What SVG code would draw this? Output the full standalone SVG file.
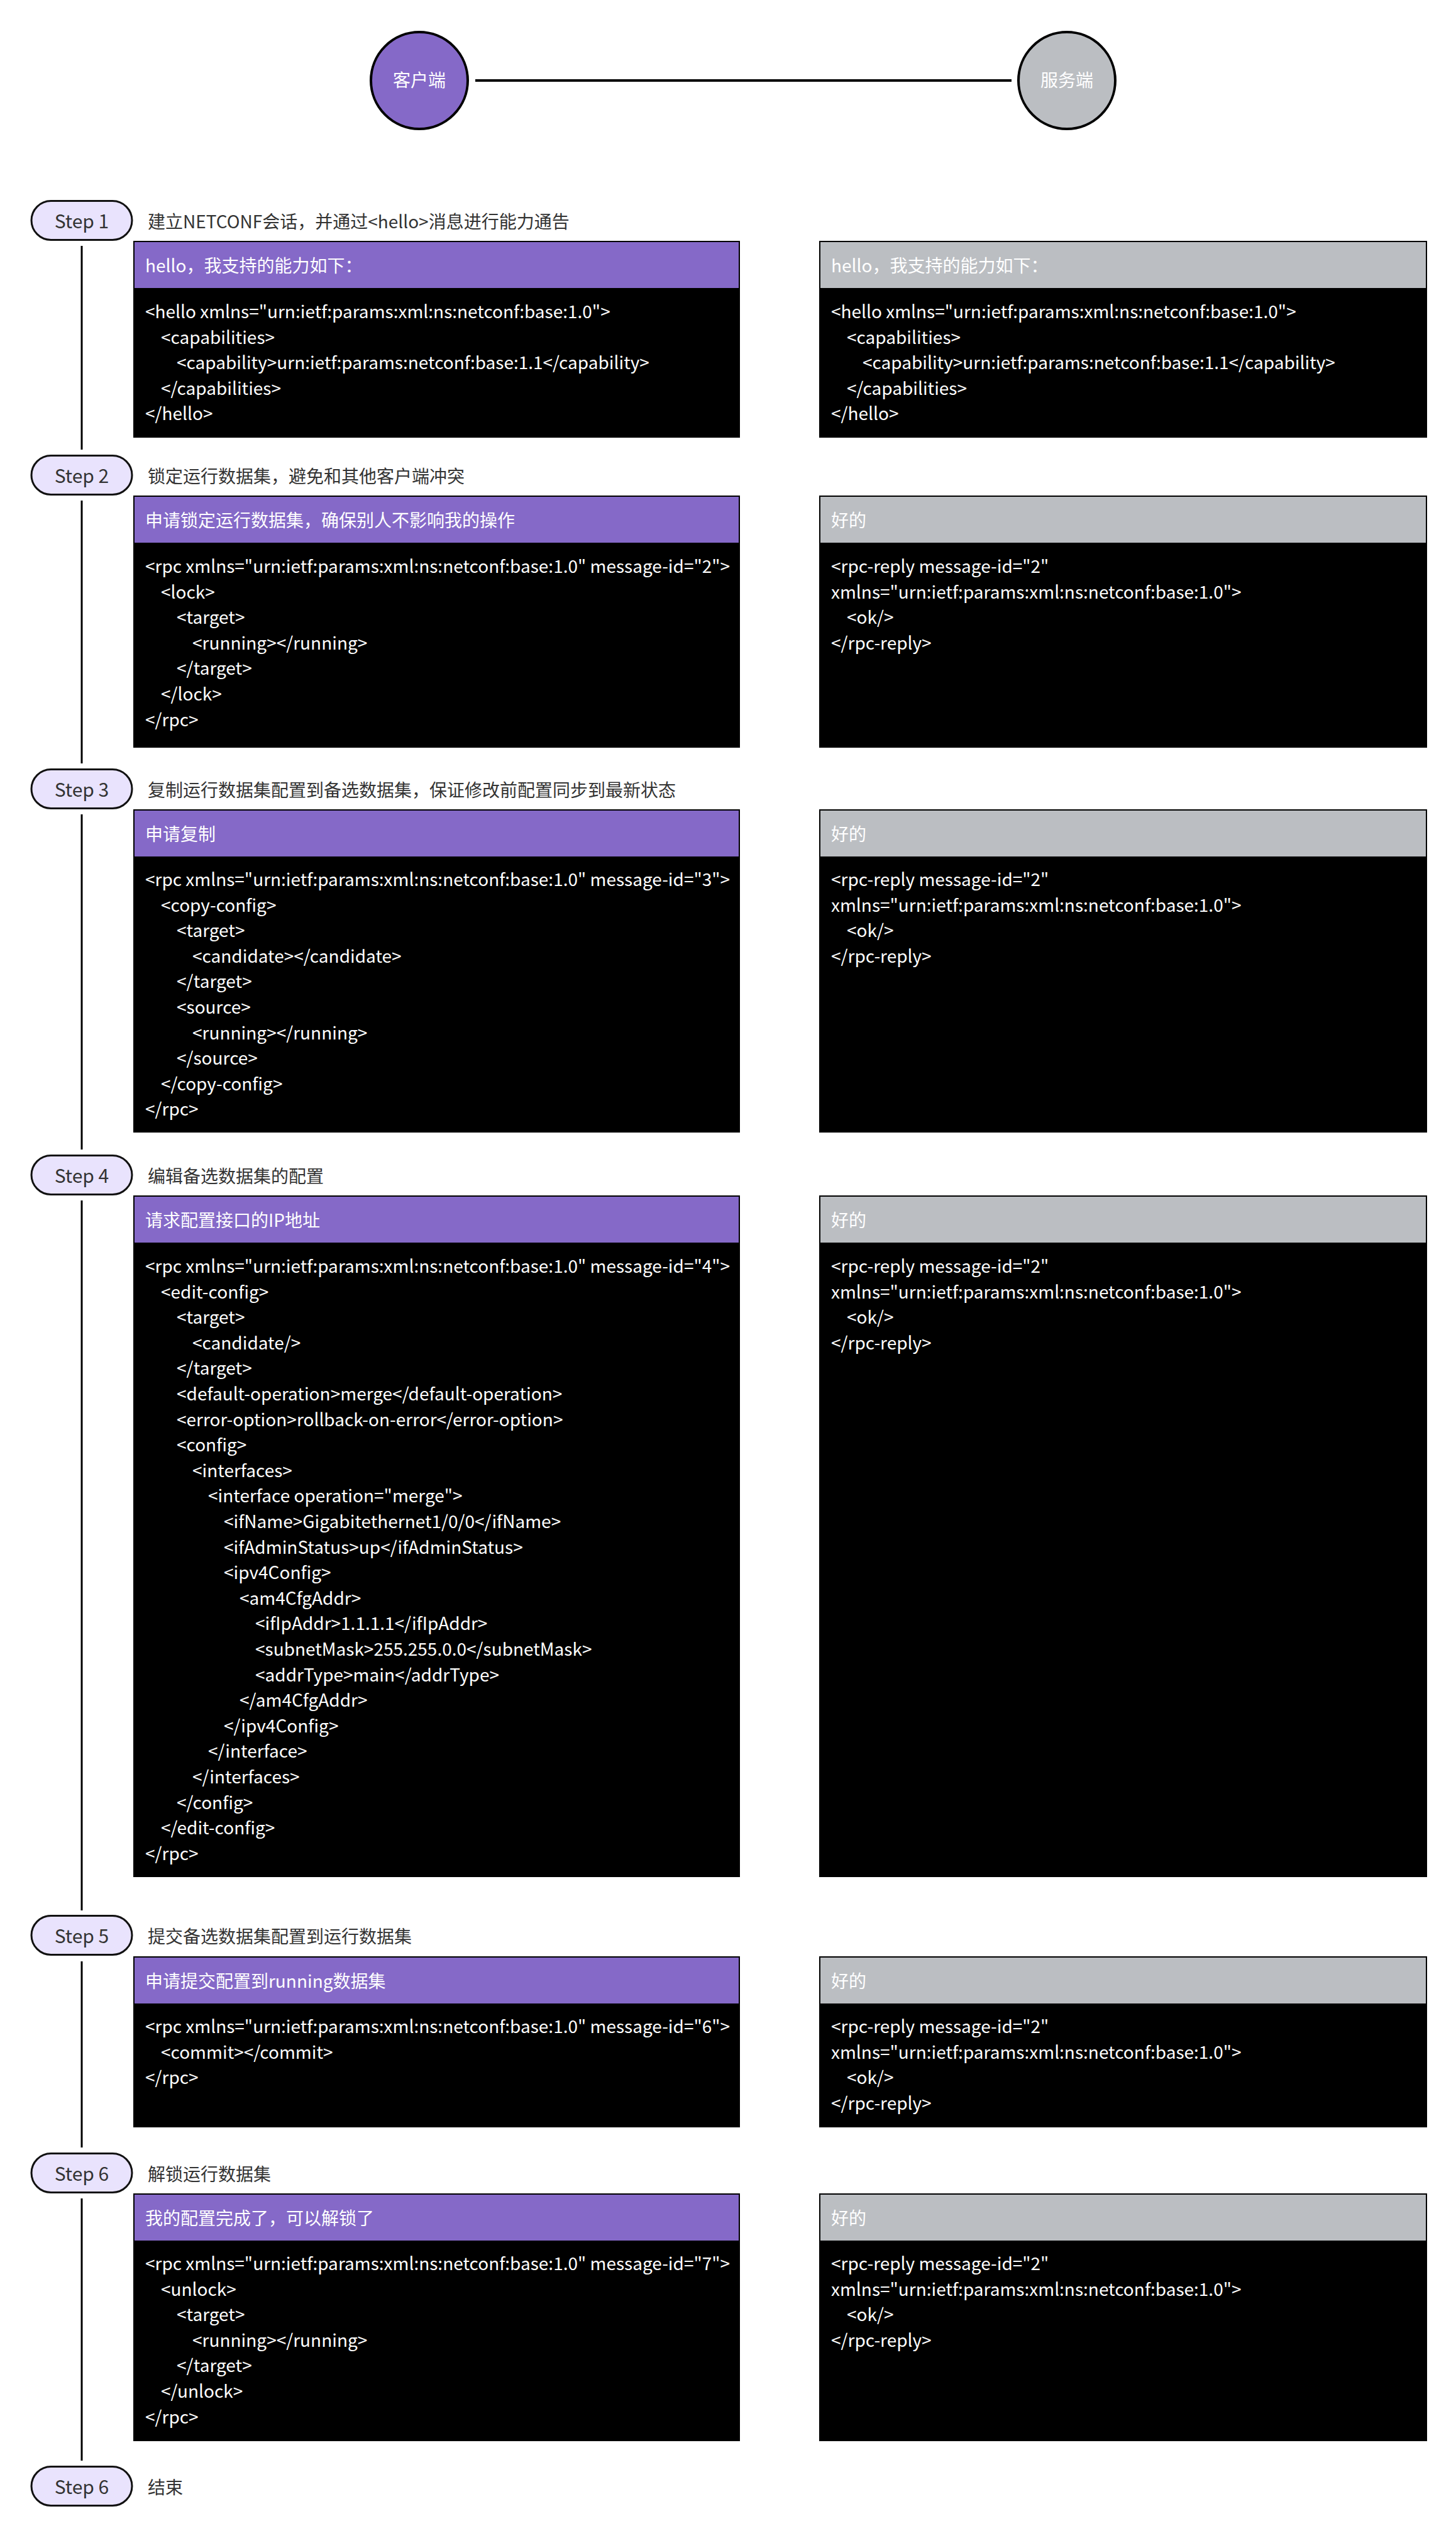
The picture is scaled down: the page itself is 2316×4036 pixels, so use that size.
<svg xmlns="http://www.w3.org/2000/svg" width="2316" height="4036" viewBox="0 0 2316 4036">
<style>
text{font-family:"Noto Sans CJK SC","Noto Sans",sans-serif}
.pill{fill:#E9E3FD;stroke:#111;stroke-width:3}
.step{font-size:30px;fill:#333;text-anchor:middle}
.desc{font-size:28px;fill:#333}
.box{fill:#000;stroke:#000;stroke-width:2}
.hc{fill:#8569C8;stroke:#000;stroke-width:2}
.hs{fill:#BBBEC2;stroke:#000;stroke-width:2}
.ht{font-size:28px;fill:#fff}
.code{font-size:28px;fill:#fff}
.conn{stroke:#000;stroke-width:3;fill:none}
.top{stroke:#000;stroke-width:4;fill:none}
.actor{stroke:#000;stroke-width:4}
.at{font-size:28px;fill:#fff;text-anchor:middle}
</style>
<rect width="2316" height="4036" fill="#fff"/>
<g id="connectors">
<line class="top" x1="756" y1="128" x2="1609" y2="128"/>
<line class="conn" x1="130" y1="391" x2="130" y2="715"/>
<line class="conn" x1="130" y1="796" x2="130" y2="1214"/>
<line class="conn" x1="130" y1="1295" x2="130" y2="1828"/>
<line class="conn" x1="130" y1="1909" x2="130" y2="3038"/>
<line class="conn" x1="130" y1="3119" x2="130" y2="3415"/>
<line class="conn" x1="130" y1="3496" x2="130" y2="3913"/>
</g>
<g id="node-client"><circle class="actor" cx="667" cy="128" r="77" fill="#8569C8"/><text class="at" x="667" y="138">客户端</text></g>
<g id="node-server"><circle class="actor" cx="1697" cy="128" r="77" fill="#BBBEC2"/><text class="at" x="1697" y="138">服务端</text></g>

<g id="step-1"><rect class="pill" x="50" y="319.5" width="160" height="62" rx="31"/><text class="step" x="130" y="363">Step 1</text><text class="desc" x="235" y="363">建立NETCONF会话，并通过&lt;hello&gt;消息进行能力通告</text></g>
<g id="client-msg-1"><rect class="box" x="213" y="384" width="963" height="311"/><rect class="hc" x="213" y="384" width="963" height="75"/><text class="ht" x="231" y="433">hello，我支持的能力如下：</text>
<text class="code"><tspan x="231" y="506">&lt;hello xmlns="urn:ietf:params:xml:ns:netconf:base:1.0"&gt;</tspan><tspan x="256" y="546.6">&lt;capabilities&gt;</tspan><tspan x="281" y="587.2">&lt;capability&gt;urn:ietf:params:netconf:base:1.1&lt;/capability&gt;</tspan><tspan x="256" y="627.8">&lt;/capabilities&gt;</tspan><tspan x="231" y="668.4">&lt;/hello&gt;</tspan></text></g>
<g id="server-msg-1"><rect class="box" x="1304" y="384" width="965" height="311"/><rect class="hs" x="1304" y="384" width="965" height="75"/><text class="ht" x="1322" y="433">hello，我支持的能力如下：</text>
<text class="code"><tspan x="1322" y="506">&lt;hello xmlns="urn:ietf:params:xml:ns:netconf:base:1.0"&gt;</tspan><tspan x="1347" y="546.6">&lt;capabilities&gt;</tspan><tspan x="1372" y="587.2">&lt;capability&gt;urn:ietf:params:netconf:base:1.1&lt;/capability&gt;</tspan><tspan x="1347" y="627.8">&lt;/capabilities&gt;</tspan><tspan x="1322" y="668.4">&lt;/hello&gt;</tspan></text></g>

<g id="step-2"><rect class="pill" x="50" y="724.5" width="160" height="62" rx="31"/><text class="step" x="130" y="768">Step 2</text><text class="desc" x="235" y="768">锁定运行数据集，避免和其他客户端冲突</text></g>
<g id="client-msg-2"><rect class="box" x="213" y="789" width="963" height="399"/><rect class="hc" x="213" y="789" width="963" height="75"/><text class="ht" x="231" y="838">申请锁定运行数据集，确保别人不影响我的操作</text>
<text class="code"><tspan x="231" y="911">&lt;rpc xmlns="urn:ietf:params:xml:ns:netconf:base:1.0" message-id="2"&gt;</tspan><tspan x="256" y="951.6">&lt;lock&gt;</tspan><tspan x="281" y="992.2">&lt;target&gt;</tspan><tspan x="306" y="1032.8">&lt;running&gt;&lt;/running&gt;</tspan><tspan x="281" y="1073.4">&lt;/target&gt;</tspan><tspan x="256" y="1114">&lt;/lock&gt;</tspan><tspan x="231" y="1154.6">&lt;/rpc&gt;</tspan></text></g>
<g id="server-msg-2"><rect class="box" x="1304" y="789" width="965" height="399"/><rect class="hs" x="1304" y="789" width="965" height="75"/><text class="ht" x="1322" y="838">好的</text>
<text class="code"><tspan x="1322" y="911">&lt;rpc-reply message-id="2"</tspan><tspan x="1322" y="951.6">xmlns="urn:ietf:params:xml:ns:netconf:base:1.0"&gt;</tspan><tspan x="1347" y="992.2">&lt;ok/&gt;</tspan><tspan x="1322" y="1032.8">&lt;/rpc-reply&gt;</tspan></text></g>

<g id="step-3"><rect class="pill" x="50" y="1223.5" width="160" height="62" rx="31"/><text class="step" x="130" y="1267">Step 3</text><text class="desc" x="235" y="1267">复制运行数据集配置到备选数据集，保证修改前配置同步到最新状态</text></g>
<g id="client-msg-3"><rect class="box" x="213" y="1288" width="963" height="512"/><rect class="hc" x="213" y="1288" width="963" height="75"/><text class="ht" x="231" y="1337">申请复制</text>
<text class="code"><tspan x="231" y="1409">&lt;rpc xmlns="urn:ietf:params:xml:ns:netconf:base:1.0" message-id="3"&gt;</tspan><tspan x="256" y="1449.6">&lt;copy-config&gt;</tspan><tspan x="281" y="1490.2">&lt;target&gt;</tspan><tspan x="306" y="1530.8">&lt;candidate&gt;&lt;/candidate&gt;</tspan><tspan x="281" y="1571.4">&lt;/target&gt;</tspan><tspan x="281" y="1612">&lt;source&gt;</tspan><tspan x="306" y="1652.6">&lt;running&gt;&lt;/running&gt;</tspan><tspan x="281" y="1693.2">&lt;/source&gt;</tspan><tspan x="256" y="1733.8">&lt;/copy-config&gt;</tspan><tspan x="231" y="1774.4">&lt;/rpc&gt;</tspan></text></g>
<g id="server-msg-3"><rect class="box" x="1304" y="1288" width="965" height="512"/><rect class="hs" x="1304" y="1288" width="965" height="75"/><text class="ht" x="1322" y="1337">好的</text>
<text class="code"><tspan x="1322" y="1409">&lt;rpc-reply message-id="2"</tspan><tspan x="1322" y="1449.6">xmlns="urn:ietf:params:xml:ns:netconf:base:1.0"&gt;</tspan><tspan x="1347" y="1490.2">&lt;ok/&gt;</tspan><tspan x="1322" y="1530.8">&lt;/rpc-reply&gt;</tspan></text></g>

<g id="step-4"><rect class="pill" x="50" y="1837.5" width="160" height="62" rx="31"/><text class="step" x="130" y="1881">Step 4</text><text class="desc" x="235" y="1881">编辑备选数据集的配置</text></g>
<g id="client-msg-4"><rect class="box" x="213" y="1902" width="963" height="1082"/><rect class="hc" x="213" y="1902" width="963" height="75"/><text class="ht" x="231" y="1951">请求配置接口的IP地址</text>
<text class="code"><tspan x="231" y="2024">&lt;rpc xmlns="urn:ietf:params:xml:ns:netconf:base:1.0" message-id="4"&gt;</tspan><tspan x="256" y="2064.6">&lt;edit-config&gt;</tspan><tspan x="281" y="2105.2">&lt;target&gt;</tspan><tspan x="306" y="2145.8">&lt;candidate/&gt;</tspan><tspan x="281" y="2186.4">&lt;/target&gt;</tspan><tspan x="281" y="2227">&lt;default-operation&gt;merge&lt;/default-operation&gt;</tspan><tspan x="281" y="2267.6">&lt;error-option&gt;rollback-on-error&lt;/error-option&gt;</tspan><tspan x="281" y="2308.2">&lt;config&gt;</tspan><tspan x="306" y="2348.8">&lt;interfaces&gt;</tspan><tspan x="331" y="2389.4">&lt;interface operation="merge"&gt;</tspan><tspan x="356" y="2430">&lt;ifName&gt;Gigabitethernet1/0/0&lt;/ifName&gt;</tspan><tspan x="356" y="2470.6">&lt;ifAdminStatus&gt;up&lt;/ifAdminStatus&gt;</tspan><tspan x="356" y="2511.2">&lt;ipv4Config&gt;</tspan><tspan x="381" y="2551.8">&lt;am4CfgAddr&gt;</tspan><tspan x="406" y="2592.4">&lt;ifIpAddr&gt;1.1.1.1&lt;/ifIpAddr&gt;</tspan><tspan x="406" y="2633">&lt;subnetMask&gt;255.255.0.0&lt;/subnetMask&gt;</tspan><tspan x="406" y="2673.6">&lt;addrType&gt;main&lt;/addrType&gt;</tspan><tspan x="381" y="2714.2">&lt;/am4CfgAddr&gt;</tspan><tspan x="356" y="2754.8">&lt;/ipv4Config&gt;</tspan><tspan x="331" y="2795.4">&lt;/interface&gt;</tspan><tspan x="306" y="2836">&lt;/interfaces&gt;</tspan><tspan x="281" y="2876.6">&lt;/config&gt;</tspan><tspan x="256" y="2917.2">&lt;/edit-config&gt;</tspan><tspan x="231" y="2957.8">&lt;/rpc&gt;</tspan></text></g>
<g id="server-msg-4"><rect class="box" x="1304" y="1902" width="965" height="1082"/><rect class="hs" x="1304" y="1902" width="965" height="75"/><text class="ht" x="1322" y="1951">好的</text>
<text class="code"><tspan x="1322" y="2024">&lt;rpc-reply message-id="2"</tspan><tspan x="1322" y="2064.6">xmlns="urn:ietf:params:xml:ns:netconf:base:1.0"&gt;</tspan><tspan x="1347" y="2105.2">&lt;ok/&gt;</tspan><tspan x="1322" y="2145.8">&lt;/rpc-reply&gt;</tspan></text></g>

<g id="step-5"><rect class="pill" x="50" y="3046.5" width="160" height="62" rx="31"/><text class="step" x="130" y="3090">Step 5</text><text class="desc" x="235" y="3090">提交备选数据集配置到运行数据集</text></g>
<g id="client-msg-5"><rect class="box" x="213" y="3112" width="963" height="270"/><rect class="hc" x="213" y="3112" width="963" height="75"/><text class="ht" x="231" y="3161">申请提交配置到running数据集</text>
<text class="code"><tspan x="231" y="3233">&lt;rpc xmlns="urn:ietf:params:xml:ns:netconf:base:1.0" message-id="6"&gt;</tspan><tspan x="256" y="3273.6">&lt;commit&gt;&lt;/commit&gt;</tspan><tspan x="231" y="3314.2">&lt;/rpc&gt;</tspan></text></g>
<g id="server-msg-5"><rect class="box" x="1304" y="3112" width="965" height="270"/><rect class="hs" x="1304" y="3112" width="965" height="75"/><text class="ht" x="1322" y="3161">好的</text>
<text class="code"><tspan x="1322" y="3233">&lt;rpc-reply message-id="2"</tspan><tspan x="1322" y="3273.6">xmlns="urn:ietf:params:xml:ns:netconf:base:1.0"&gt;</tspan><tspan x="1347" y="3314.2">&lt;ok/&gt;</tspan><tspan x="1322" y="3354.8">&lt;/rpc-reply&gt;</tspan></text></g>

<g id="step-6"><rect class="pill" x="50" y="3424.5" width="160" height="62" rx="31"/><text class="step" x="130" y="3468">Step 6</text><text class="desc" x="235" y="3468">解锁运行数据集</text></g>
<g id="client-msg-6"><rect class="box" x="213" y="3489" width="963" height="392"/><rect class="hc" x="213" y="3489" width="963" height="75"/><text class="ht" x="231" y="3538">我的配置完成了，可以解锁了</text>
<text class="code"><tspan x="231" y="3610">&lt;rpc xmlns="urn:ietf:params:xml:ns:netconf:base:1.0" message-id="7"&gt;</tspan><tspan x="256" y="3650.6">&lt;unlock&gt;</tspan><tspan x="281" y="3691.2">&lt;target&gt;</tspan><tspan x="306" y="3731.8">&lt;running&gt;&lt;/running&gt;</tspan><tspan x="281" y="3772.4">&lt;/target&gt;</tspan><tspan x="256" y="3813">&lt;/unlock&gt;</tspan><tspan x="231" y="3853.6">&lt;/rpc&gt;</tspan></text></g>
<g id="server-msg-6"><rect class="box" x="1304" y="3489" width="965" height="392"/><rect class="hs" x="1304" y="3489" width="965" height="75"/><text class="ht" x="1322" y="3538">好的</text>
<text class="code"><tspan x="1322" y="3610">&lt;rpc-reply message-id="2"</tspan><tspan x="1322" y="3650.6">xmlns="urn:ietf:params:xml:ns:netconf:base:1.0"&gt;</tspan><tspan x="1347" y="3691.2">&lt;ok/&gt;</tspan><tspan x="1322" y="3731.8">&lt;/rpc-reply&gt;</tspan></text></g>

<g id="step-end"><rect class="pill" x="50" y="3922.5" width="160" height="62" rx="31"/><text class="step" x="130" y="3966">Step 6</text><text class="desc" x="235" y="3966">结束</text></g>
</svg>
